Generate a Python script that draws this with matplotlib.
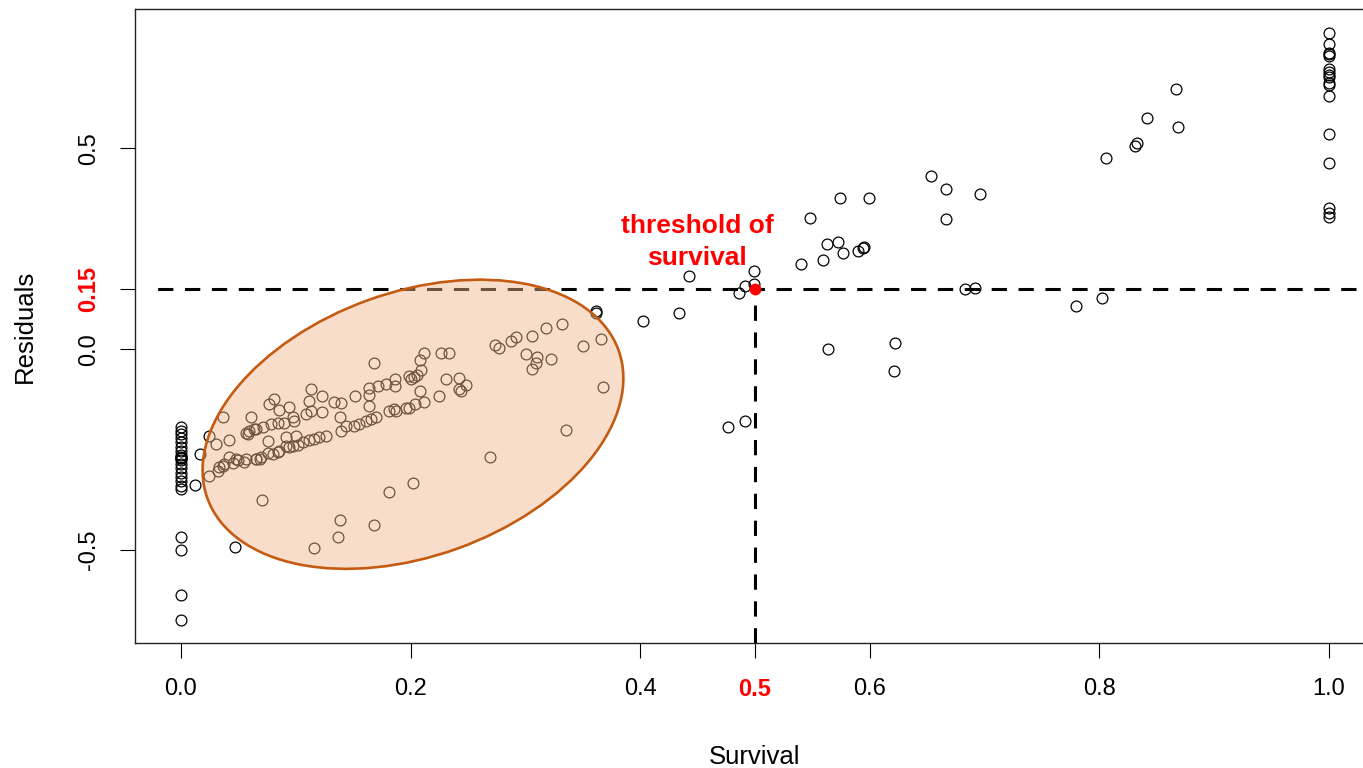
import matplotlib
matplotlib.use("Agg")
import matplotlib.pyplot as plt
from matplotlib.patches import Ellipse
from matplotlib.transforms import ScaledTranslation

plt.rcParams["font.family"] = ["Liberation Sans", "DejaVu Sans"]

# ============================================================
# DATA
# ============================================================

# residuals of the points with survival == 0
zero_res = [-0.195, -0.203, -0.212, -0.221, -0.232, -0.243, -0.254, -0.263,
            -0.268, -0.270, -0.272, -0.276, -0.286, -0.297, -0.308, -0.318,
            -0.329, -0.340, -0.348, -0.467, -0.500, -0.612, -0.674]

# residuals of the points with survival == 1
one_res = [0.788, 0.761, 0.738, 0.735, 0.731, 0.697, 0.690, 0.683, 0.677,
           0.662, 0.657, 0.630, 0.535, 0.464, 0.351, 0.340, 0.328]

# low survival cluster (inside the ellipse)
low_surv = [0.3316, 0.3181, 0.3056, 0.2920, 0.2876, 0.2737, 0.2774, 0.3007, 0.3099, 0.3094,
            0.3056, 0.3225, 0.3500, 0.3660, 0.3674, 0.3355, 0.2693, 0.2121, 0.2086, 0.2092,
            0.1984, 0.2005, 0.2034, 0.2054, 0.2267, 0.2333, 0.1679, 0.2310, 0.2426, 0.2426,
            0.2484, 0.2441, 0.2252, 0.2086, 0.2121, 0.2040, 0.1990, 0.1962, 0.1875, 0.1816,
            0.1860, 0.1868, 0.1868, 0.1787, 0.1714, 0.1642, 0.1642, 0.1520, 0.1395, 0.1337,
            0.1230, 0.1134, 0.1113, 0.1226, 0.1134, 0.1091, 0.1642, 0.1700, 0.1657, 0.1613,
            0.1555, 0.1511, 0.1439, 0.1395, 0.1387, 0.1265, 0.1206, 0.1163, 0.1119, 0.1061,
            0.1017, 0.0974, 0.0945, 0.0916, 0.1003, 0.0916, 0.0800, 0.0843, 0.0756, 0.0690,
            0.0655, 0.0553, 0.0481, 0.0422, 0.0379, 0.0335, 0.0321, 0.0248, 0.0756, 0.0422,
            0.0307, 0.0248, 0.0370, 0.0611, 0.0568, 0.0582, 0.0655, 0.0713, 0.0771, 0.0814,
            0.0858, 0.0945, 0.0974, 0.0707, 0.2025, 0.1810, 0.1389, 0.1372, 0.1679, 0.1157,
            0.0597, 0.0640, 0.0785, 0.0843, 0.0902, 0.0989, 0.0363, 0.0450, 0.0493, 0.0566,
            0.0653, 0.0697, 0.0854, 0.0167, 0.0126, 0.0475]
low_res = [0.0637, 0.0537, 0.0331, 0.0306, 0.0206, 0.0100, 0.0040, -0.0124, -0.0192, -0.0333,
           -0.0498, -0.0249, 0.0082, 0.0249, -0.0938, -0.2015, -0.2679, -0.0085, -0.0274, -0.0522,
           -0.0664, -0.0746, -0.0689, -0.0639, -0.0100, -0.0085, -0.0333, -0.0746, -0.0706, -0.0995,
           -0.0896, -0.1037, -0.1162, -0.1037, -0.1311, -0.1368, -0.1453, -0.1468, -0.1535, -0.1535,
           -0.1478, -0.0746, -0.0913, -0.0856, -0.0913, -0.0955, -0.1137, -0.1162, -0.1328, -0.1311,
           -0.1162, -0.0980, -0.1286, -0.1552, -0.1535, -0.1617, -0.1410, -0.1701, -0.1741, -0.1784,
           -0.1866, -0.1908, -0.1908, -0.2032, -0.1701, -0.2157, -0.2199, -0.2239, -0.2264, -0.2323,
           -0.2381, -0.2405, -0.2448, -0.2405, -0.2157, -0.2182, -0.2612, -0.2572, -0.2597, -0.2736,
           -0.2736, -0.2821, -0.2736, -0.2697, -0.2861, -0.2945, -0.3027, -0.3152, -0.2299, -0.2264,
           -0.2363, -0.2157, -0.1701, -0.1701, -0.2075, -0.2114, -0.1990, -0.1950, -0.1368, -0.1244,
           -0.1517, -0.1435, -0.1701, -0.3756, -0.3343, -0.3550, -0.4254, -0.4669, -0.4378, -0.4960,
           -0.203, -0.199, -0.187, -0.183, -0.183, -0.179, -0.290, -0.284, -0.277, -0.273,
           -0.273, -0.269, -0.253, -0.260, -0.338, -0.492]

# middle / high survival points
high_surv = [0.4423, 0.4990, 0.4917, 0.4859, 0.4990, 0.4342, 0.4023, 0.3617, 0.3611, 0.4917,
             0.4763, 0.653, 0.666, 0.696, 0.666, 0.574, 0.599, 0.548, 0.563, 0.572,
             0.577, 0.590, 0.594, 0.595, 0.540, 0.559, 0.683, 0.692, 0.564, 0.622,
             0.621, 0.867, 0.841, 0.868, 0.833, 0.831, 0.806, 0.802, 0.780]
high_res = [0.1826, 0.1948, 0.1575, 0.1408, 0.1617, 0.0910, 0.0704, 0.0953, 0.0903, -0.1784,
            -0.1950, 0.431, 0.398, 0.386, 0.323, 0.377, 0.377, 0.327, 0.261, 0.268,
            0.240, 0.245, 0.253, 0.255, 0.211, 0.221, 0.149, 0.153, 0.000, 0.016,
            -0.054, 0.649, 0.575, 0.554, 0.514, 0.506, 0.477, 0.128, 0.108]

THRESH_SURV = 0.5
THRESH_RES = 0.15

x_ticks = [0.0, 0.2, 0.4, 0.5, 0.6, 0.8, 1.0]
x_labels = ["0.0", "0.2", "0.4", "0.5", "0.6", "0.8", "1.0"]
y_ticks = [-0.5, 0.0, 0.15, 0.5]
y_labels = ["-0.5", "0.0", "0.15", "0.5"]

# ============================================================
# PLOT
# ============================================================

survival = [0.0] * len(zero_res) + [1.0] * len(one_res) + low_surv + high_surv
residuals = zero_res + one_res + low_res + high_res

fig = plt.figure(figsize=(13.63, 7.68), dpi=100)
ax = fig.add_axes([0.09905, 0.16237, 0.90975, 0.82552])

ax.plot(survival, residuals, linestyle="none", marker="o", ms=7.8,
        mfc="none", mec="black", mew=0.9, zorder=2)

# R-like axis ranges (4% padding)
yr = max(residuals) - min(residuals)
ax.set_xlim(-0.04, 1.04)
ax.set_ylim(min(residuals) - 0.04 * yr, max(residuals) + 0.04 * yr)

# threshold lines
ax.plot([-0.03, 1.04], [THRESH_RES, THRESH_RES], color="black", lw=2.2,
        linestyle=(5, (5, 3.8)), zorder=3)
ax.plot([THRESH_SURV, THRESH_SURV], [ax.get_ylim()[0], THRESH_RES], color="black",
        lw=2.2, linestyle=(0, (5, 3.8)), zorder=3)
ax.plot([THRESH_SURV], [THRESH_RES], marker="o", ms=7.5, color="red", zorder=4)

ax.text(0.4495, 0.267, "threshold of\nsurvival", color="red", fontsize=19,
        fontweight="bold", ha="center", va="center", multialignment="center",
        linespacing=1.45, zorder=6)

# highlighted low-survival cluster (sizes in inches on screen)
ell = Ellipse((0, 0), 4.37, 2.64, angle=19.8,
              facecolor=(0.94, 0.725, 0.553, 0.46), edgecolor="#C55A11", lw=1.9,
              transform=fig.dpi_scale_trans + ScaledTranslation(0.2021, -0.187, ax.transData),
              zorder=5)
ax.add_patch(ell)

# axes / ticks
for side in ["left", "top", "bottom"]:
    ax.spines[side].set_linewidth(1.0)
    ax.spines[side].set_color("#222222")
ax.spines["right"].set_visible(False)

ax.set_xticks(x_ticks)
ax.set_xticklabels(x_labels)
ax.set_yticks(y_ticks)
ax.set_yticklabels(y_labels)
ax.tick_params(axis="both", direction="out", length=11, width=0.8,
               labelsize=17, pad=14)
ax.tick_params(axis="y", labelrotation=90)
for lab in ax.get_yticklabels():
    lab.set_va("center")

for ticks, labels, idx in [(ax.xaxis.get_major_ticks(), ax.get_xticklabels(), 3),
                           (ax.yaxis.get_major_ticks(), ax.get_yticklabels(), 2)]:
    ticks[idx].tick1line.set_color("red")
    labels[idx].set_color("red")
    labels[idx].set_fontweight("bold")

ax.set_xlabel("Survival", fontsize=18.5, va="center")
ax.set_ylabel("Residuals", fontsize=18.5, va="center")
ax.xaxis.set_label_coords(0.5, -0.179)
ax.yaxis.set_label_coords(-0.0887, 0.5)

fig.savefig("out.png", dpi=100)
plt.close(fig)
